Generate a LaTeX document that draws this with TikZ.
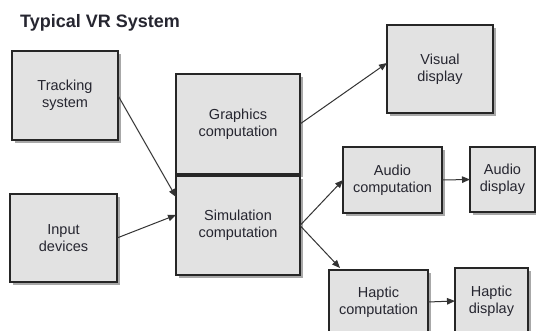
\documentclass[tikz,border=0pt]{standalone}
\usepackage{fontspec}
\setmainfont{Liberation Sans}
\usetikzlibrary{arrows.meta,shadows}
\definecolor{boxfill}{HTML}{E2E2E2}
\definecolor{txt}{HTML}{262630}
\definecolor{shadowc}{HTML}{A8A8A8}
\begin{document}
\begin{tikzpicture}[x=1pt,y=-1pt,
  blk/.style={draw=black!85,line width=1.3pt,fill=boxfill,text=txt,align=center,
    inner sep=0pt,outer sep=0pt,
    font=\fontsize{14.5}{17}\selectfont,
    drop shadow={shadow xshift=3pt,shadow yshift=-3pt,fill=shadowc,opacity=1}},
  arr/.style={draw=black!80,line width=1pt,-{Triangle[length=8pt,width=6.5pt]}}]
\clip (0,0) rectangle (536,331);
\fill[white] (0,0) rectangle (536,331);
\node[anchor=base west,font=\fontsize{18}{20}\selectfont\bfseries,text=txt,inner sep=0pt] (title) at (20,28) {Typical VR System};
\node[blk,minimum width=106pt,minimum height=89pt] (track) at (65,95.5) {Tracking\\system};
\node[blk,minimum width=107pt,minimum height=88pt] (input) at (63.5,238) {Input\\devices};
\node[blk,minimum width=124pt,minimum height=100pt] (graph) at (238,124) {Graphics\\computation};
\node[blk,minimum width=124pt,minimum height=99pt] (sim) at (238,225.5) {Simulation\\computation};
\node[blk,minimum width=106pt,minimum height=88pt] (visual) at (440,69) {Visual\\display};
\node[blk,minimum width=99pt,minimum height=66pt] (audcomp) at (392.5,180) {Audio\\computation};
\node[blk,minimum width=65pt,minimum height=65pt] (auddisp) at (502.5,179.5) {Audio\\display};
\node[blk,minimum width=99pt,minimum height=64pt] (hapcomp) at (378.5,302) {Haptic\\computation};
\node[blk,minimum width=73pt,minimum height=66pt] (hapdisp) at (491.5,301) {Haptic\\display};
\draw[arr] (track.east) -- ([yshift=-21pt]sim.north west);
\draw[arr] (input.east) -- ([yshift=-39pt]sim.north west);
\draw[arr] (graph.east) -- ([yshift=6pt]visual.west);
\draw[arr] (sim.east) -- (audcomp.west);
\draw[arr] (sim.east) -- ([xshift=11pt,yshift=2pt]hapcomp.north west);
\draw[arr] (audcomp.east) -- (auddisp.west);
\draw[arr] (hapcomp.east) -- (hapdisp.west);
\end{tikzpicture}
\end{document}
